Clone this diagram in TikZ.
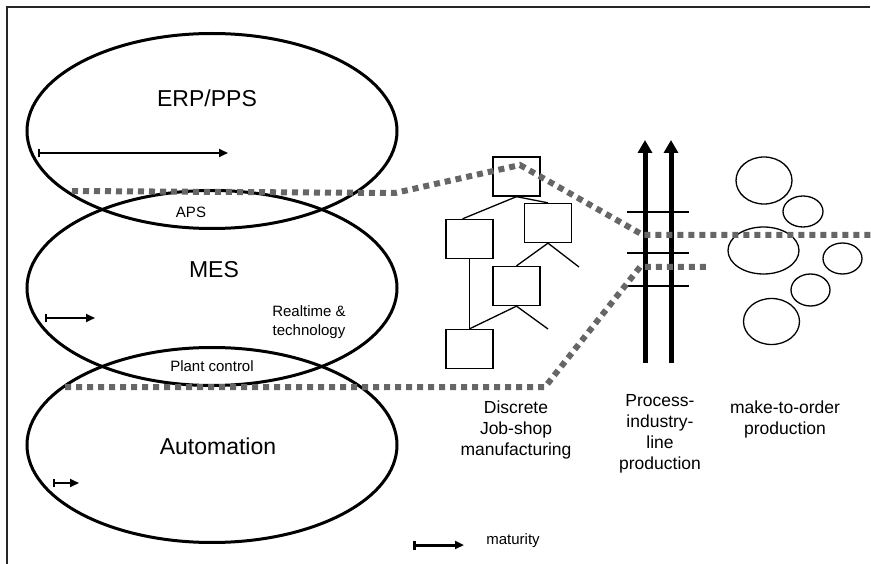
\documentclass[tikz,border=0pt]{standalone}
\usepackage{fontspec}
\setmainfont{Liberation Sans}
\usetikzlibrary{shapes.geometric,arrows.meta}
\definecolor{dashgray}{RGB}{102,102,102}

\begin{document}
\begin{tikzpicture}[x=1pt,y=-1pt,
  layer/.style={ellipse,draw,line width=3pt,inner sep=0pt,minimum width=370pt,minimum height=195pt},
  bubble/.style={ellipse,draw,line width=1.3pt,inner sep=0pt},
  orderbox/.style={rectangle,draw,line width=1.3pt,minimum width=47pt,minimum height=39pt,inner sep=0pt},
  treeline/.style={line width=1.3pt},
  boundary/.style={draw=dashgray,line width=6pt,dash pattern=on 6pt off 5pt},
  maturityarrow/.style={line width=2pt,{Bar[width=8pt]}-{Triangle[width=8pt,length=9pt]}},
  flow/.style={line width=5pt,-{Triangle[width=14pt,length=13pt]}},
  rung/.style={line width=1.3pt},
  bigtext/.style={font=\fontsize{23}{27}\selectfont},
  smalltext/.style={font=\fontsize{15}{19}\selectfont,align=center},
  labeltext/.style={font=\fontsize{17.5}{21}\selectfont,align=center}
]
\useasboundingbox (0,0) rectangle (871,564);

% frame
\draw[line width=1.5pt,draw=black!85] (870,7) -- (7,7) -- (7,564);

% planning layers
\node[layer] (erp) at (212,131) {};
\node[layer] (mes) at (212,288) {};
\node[layer] (aut) at (212,445) {};

\node[bigtext] (erptext) at (207,98) {ERP/PPS};
\node[bigtext] (mestext) at (214,270) {MES};
\node[bigtext] (auttext) at (218,446) {Automation};
\node[smalltext] (aps) at (191,212) {APS};
\node[smalltext] (plant) at (212,366) {Plant control};
\node[smalltext] (realtime) at (309,322) {Realtime \&\\technology};

% maturity arrows
\coordinate (m1a) at (38,153);  \coordinate (m1b) at (228,153);
\coordinate (m2a) at (45,318);  \coordinate (m2b) at (95,318);
\coordinate (m3a) at (53,483);  \coordinate (m3b) at (79,483);
\draw[maturityarrow] (m1a) -- (m1b);
\draw[maturityarrow] (m2a) -- (m2b);
\draw[maturityarrow] (m3a) -- (m3b);

% job-shop order tree
\node[orderbox] (b1) at (516.5,176.5) {};
\node[orderbox] (b2) at (548,223) {};
\node[orderbox] (b3) at (469.5,239) {};
\node[orderbox] (b4) at (516.5,286) {};
\node[orderbox] (b5) at (469.5,349) {};
\coordinate (e2) at (579,267);
\coordinate (e4) at (548,329);
\draw[treeline] (b1.south) -- ([xshift=-7pt]b3.north);
\draw[treeline] (b1.south) -- (b2.north);
\draw[treeline] (b2.south) -- (b4.north);
\draw[treeline] (b2.south) -- (e2);
\draw[treeline] (b4.south) -- (b5.north);
\draw[treeline] (b4.south) -- (e4);
\draw[treeline] (b3.south) -- (b5.north);

% process industry line production
\coordinate (f1s) at (645,363); \coordinate (f1e) at (645,140);
\coordinate (f2s) at (671,363); \coordinate (f2e) at (671,140);
\draw[flow] (f1s) -- (f1e);
\draw[flow] (f2s) -- (f2e);
\coordinate (r1a) at (627,212); \coordinate (r1b) at (689,212);
\coordinate (r2a) at (627,253); \coordinate (r2b) at (689,253);
\coordinate (r3a) at (627,286); \coordinate (r3b) at (689,286);
\draw[rung] (r1a) -- (r1b);
\draw[rung] (r2a) -- (r2b);
\draw[rung] (r3a) -- (r3b);

% make-to-order bubbles
\node[bubble,minimum width=56pt,minimum height=47pt] (o1) at (764,180.5) {};
\node[bubble,minimum width=40pt,minimum height=31pt] (o2) at (803,211.5) {};
\node[bubble,minimum width=71pt,minimum height=47pt] (o3) at (763.5,250.5) {};
\node[bubble,minimum width=39pt,minimum height=31pt] (o4) at (842.5,258.5) {};
\node[bubble,minimum width=39pt,minimum height=32pt] (o5) at (810.5,290) {};
\node[bubble,minimum width=56pt,minimum height=46pt] (o6) at (771.5,321.5) {};

% boundaries
\coordinate (u1) at (72,191);
\coordinate (u2) at (395,193);
\coordinate (u3) at (520,165);
\coordinate (u4) at (643,235);
\coordinate (u5) at (871,235);
\draw[boundary] (u1) -- (u2) -- (u3) -- (u4) -- (u5);
\coordinate (l1) at (65,387);
\coordinate (l2) at (545,387);
\coordinate (l3) at (640,267);
\coordinate (l4) at (706,267);
\draw[boundary] (l1) -- (l2) -- (l3) -- (l4);

% production type labels
\node[labeltext] (discrete) at (516,430) {Discrete\\Job-shop\\manufacturing};
\node[labeltext] (process) at (660,434) {Process-\\industry-\\line\\production};
\node[labeltext] (mto) at (785,419) {make-to-order\\production};

% legend
\coordinate (lga) at (413,545); \coordinate (lgb) at (464,545);
\draw[line width=3pt,{Bar[width=9pt]}-{Triangle[width=8pt,length=9pt]}] (lga) -- (lgb);
\node[font=\fontsize{15}{18}\selectfont] (maturity) at (513,541) {maturity};
\end{tikzpicture}
\end{document}
